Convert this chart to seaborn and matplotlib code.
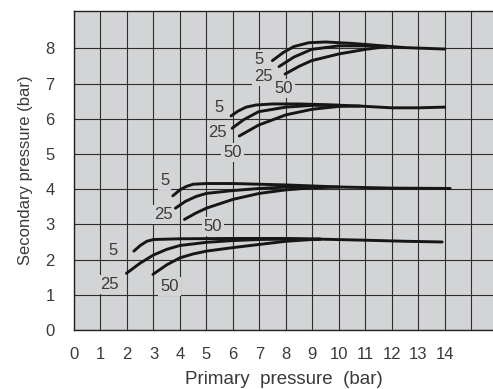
import matplotlib
matplotlib.use("Agg")
import matplotlib.pyplot as plt
import seaborn as sns
import pandas as pd

# ---- data ----
flow_labels = ["5", "25", "50"]

# set ~2.6 bar
s1_c5_x = [2.26, 2.5, 2.75, 3.0, 4.0, 6.0, 8.0, 9.3, 11.0, 12.5, 13.9]
s1_c5_y = [2.24, 2.40, 2.52, 2.57, 2.59, 2.60, 2.60, 2.58, 2.55, 2.52, 2.50]
s1_c25_x = [1.98, 2.5, 3.0, 3.5, 4.0, 5.0, 6.0, 7.0, 8.0, 9.3]
s1_c25_y = [1.61, 1.90, 2.13, 2.29, 2.40, 2.49, 2.54, 2.57, 2.58, 2.58]
s1_c50_x = [2.98, 3.5, 4.0, 4.5, 5.0, 6.0, 7.0, 8.0, 9.0, 9.3]
s1_c50_y = [1.58, 1.85, 2.05, 2.16, 2.24, 2.34, 2.43, 2.52, 2.57, 2.58]

# set ~4.1 bar
s2_c5_x = [3.73, 4.0, 4.25, 4.5, 5.0, 6.0, 8.0, 10.1, 12.0, 14.2]
s2_c5_y = [3.81, 3.98, 4.08, 4.14, 4.16, 4.16, 4.12, 4.06, 4.03, 4.02]
s2_c25_x = [3.83, 4.2, 4.6, 5.0, 6.0, 7.0, 8.0, 9.0]
s2_c25_y = [3.46, 3.65, 3.79, 3.88, 3.96, 4.02, 4.06, 4.07]
s2_c50_x = [4.17, 4.6, 5.0, 6.0, 7.0, 8.0, 9.0, 10.0]
s2_c50_y = [3.14, 3.32, 3.46, 3.71, 3.88, 3.98, 4.04, 4.06]

# set ~6.4 bar
s3_c5_x = [5.93, 6.2, 6.5, 6.87, 7.5, 8.5, 9.5, 10.8, 12.0, 13.0, 14.0]
s3_c5_y = [6.08, 6.22, 6.33, 6.39, 6.42, 6.42, 6.40, 6.36, 6.31, 6.31, 6.33]
s3_c25_x = [5.97, 6.4, 6.97, 8.0, 9.0, 10.0]
s3_c25_y = [5.73, 5.97, 6.20, 6.33, 6.38, 6.38]
s3_c50_x = [6.24, 6.97, 8.0, 9.0, 10.0, 10.8]
s3_c50_y = [5.51, 5.82, 6.11, 6.27, 6.35, 6.36]

# set ~8.1 bar
s4_c5_x = [7.49, 7.9, 8.3, 8.87, 9.5, 10.5, 11.5, 12.5, 14.0]
s4_c5_y = [7.65, 7.88, 8.05, 8.16, 8.18, 8.14, 8.08, 8.02, 7.98]
s4_c25_x = [7.74, 8.3, 8.97, 10.0, 11.0, 11.5]
s4_c25_y = [7.48, 7.75, 7.97, 8.07, 8.07, 8.06]
s4_c50_x = [7.97, 8.5, 8.97, 10.0, 11.0, 11.8]
s4_c50_y = [7.27, 7.49, 7.65, 7.84, 7.97, 8.05]

# label anchor points (data coords)
lab_x = [1.48, 1.35, 3.61, 3.42, 3.36, 5.24, 5.49, 5.43, 5.99, 6.97, 7.14, 7.93]
lab_y = [2.27, 1.28, 1.23, 4.26, 3.27, 2.95, 6.33, 5.62, 5.05, 7.69, 7.20, 6.87]
lab_t = ["5", "25", "50"] * 4

x_ticks = list(range(0, 15))
y_ticks = list(range(0, 9))

curves = [
    (s1_c5_x, s1_c5_y), (s1_c25_x, s1_c25_y), (s1_c50_x, s1_c50_y),
    (s2_c5_x, s2_c5_y), (s2_c25_x, s2_c25_y), (s2_c50_x, s2_c50_y),
    (s3_c5_x, s3_c5_y), (s3_c25_x, s3_c25_y), (s3_c50_x, s3_c50_y),
    (s4_c5_x, s4_c5_y), (s4_c25_x, s4_c25_y), (s4_c50_x, s4_c50_y),
]

BG = "#d3d4d6"
GRID = "#2e2e2e"
TXT = "#3a3a3a"

sns.set_style("white")
plt.rcParams["font.family"] = ["Liberation Sans", "DejaVu Sans"]

fig = plt.figure(figsize=(4.93, 3.89), dpi=100)
ax = fig.add_axes([74 / 493, 59 / 389, 1 - 74 / 493, 319 / 389])
ax.set_facecolor(BG)

for i, (xs, ys) in enumerate(curves):
    df = pd.DataFrame({"x": xs, "y": ys})
    sns.lineplot(data=df, x="x", y="y", ax=ax, color="#161616", lw=2.1,
                 sort=False, estimator=None, zorder=3)

for x, y, t in zip(lab_x, lab_y, lab_t):
    ax.text(x, y, t, ha="center", va="center", fontsize=12, color=TXT,
            zorder=4,
            bbox=dict(boxstyle="square,pad=0.12", fc=BG, ec="none"))

ax.set_xlim(0, 15.82)
ax.set_ylim(0, 9.06)
ax.set_xticks(x_ticks)
ax.set_xticks([15], minor=True)
ax.set_yticks(y_ticks)
ax.grid(True, which="both", color=GRID, lw=0.8, zorder=1)
ax.set_axisbelow(True)
ax.tick_params(axis="both", length=0, labelsize=12, labelcolor=TXT)
ax.tick_params(axis="x", pad=12)
ax.tick_params(axis="y", pad=14)
ax.tick_params(axis="x", which="minor", length=0, labelbottom=False)

for s in ["left", "bottom", "top"]:
    ax.spines[s].set_color("#222222")
    ax.spines[s].set_linewidth(1.0)
ax.spines["right"].set_visible(False)

ax.set_xlabel("Primary  pressure  (bar)", fontsize=13.5, color=TXT, labelpad=6.5)
ax.set_ylabel("Secondary pressure (bar)", fontsize=12, color=TXT, labelpad=9)

fig.savefig("out.png", dpi=100)
